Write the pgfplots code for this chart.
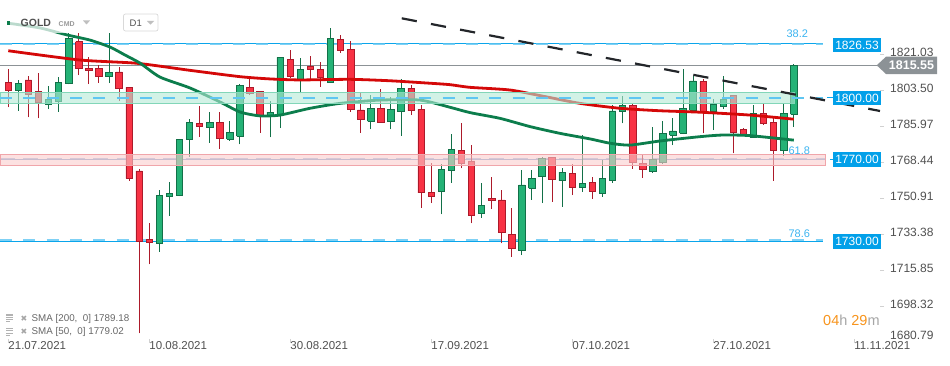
\documentclass[border=0pt]{standalone}
\usepackage{pgfplots}
\pgfplotsset{compat=1.18}
\usepackage{pgfplotstable}
\usepackage{fontspec}
\setmainfont{Liberation Sans}
\newfontfamily\dejavu{DejaVu Sans}
\definecolor{candleG}{RGB}{36,178,118}
\definecolor{candleGd}{RGB}{18,112,72}
\definecolor{candleR}{RGB}{248,50,68}
\definecolor{candleRd}{RGB}{172,26,42}
\definecolor{smared}{RGB}{212,8,8}
\definecolor{smagreen}{RGB}{12,125,76}
\definecolor{lineblue}{RGB}{10,165,235}
\definecolor{lightblue}{RGB}{95,198,242}
\definecolor{boxblue}{RGB}{2,160,233}
\definecolor{greylab}{RGB}{140,146,150}
\definecolor{bandG}{RGB}{180,234,214}
\definecolor{bandGd}{RGB}{130,214,184}
\definecolor{bandR}{RGB}{250,205,205}
\definecolor{bandRd}{RGB}{240,165,170}
\definecolor{steel}{RGB}{125,165,212}
\definecolor{fibblue}{RGB}{60,180,240}
\definecolor{labgrey}{RGB}{80,80,80}
\definecolor{timorange}{RGB}{247,148,29}
\definecolor{trendc}{RGB}{35,38,42}

\pgfplotstableread{
O H L C
1807.6 1814.0 1795.4 1803.8
1803.8 1808.7 1793.6 1807.1
1808.7 1810.6 1790.5 1801.7
1803.3 1812.2 1790.0 1797.8
1796.9 1805.8 1794.4 1799.3
1798.1 1810.0 1793.2 1807.6
1807.1 1831.4 1806.6 1829.0
1827.3 1831.4 1811.1 1814.4
1814.4 1819.7 1806.7 1813.2
1814.4 1816.0 1807.4 1810.3
1810.3 1831.4 1807.1 1812.4
1812.6 1815.1 1798.6 1804.6
1805.1 1805.3 1759.7 1760.8
1764.4 1765.4 1685.4 1730.0
1731.3 1738.9 1719.0 1729.8
1729.2 1755.1 1725.1 1752.6
1752.1 1759.0 1742.5 1753.5
1752.4 1780.0 1752.2 1779.8
1779.8 1789.7 1771.4 1788.1
1787.6 1796.0 1781.1 1786.3
1785.7 1793.0 1778.2 1788.1
1788.1 1793.0 1775.2 1780.3
1780.0 1788.7 1779.1 1783.2
1781.4 1806.5 1777.4 1806.2
1805.1 1809.2 1801.4 1802.2
1803.3 1803.5 1783.0 1791.6
1790.8 1798.5 1780.8 1793.0
1792.0 1820.0 1785.2 1819.7
1818.7 1823.3 1809.5 1810.3
1808.7 1819.2 1802.2 1813.9
1815.3 1820.4 1809.0 1813.9
1813.9 1817.4 1805.4 1809.8
1807.6 1833.8 1807.3 1829.0
1828.5 1830.6 1822.0 1822.9
1823.6 1827.7 1793.2 1794.4
1794.1 1802.2 1783.0 1789.6
1788.5 1801.4 1784.7 1794.9
1794.9 1804.2 1787.9 1788.0
1788.4 1800.5 1784.7 1794.4
1793.2 1809.0 1781.6 1804.6
1804.6 1806.2 1791.6 1793.7
1794.4 1796.5 1746.5 1753.8
1754.0 1768.1 1748.7 1751.9
1754.3 1767.7 1743.3 1765.2
1764.5 1782.4 1758.7 1775.0
1774.5 1787.6 1765.7 1768.1
1769.3 1777.0 1738.9 1742.6
1743.8 1758.7 1741.7 1747.8
1751.1 1761.6 1745.8 1749.9
1750.3 1755.1 1729.2 1734.6
1733.7 1746.2 1722.7 1726.8
1725.6 1764.9 1723.5 1757.6
1756.0 1764.9 1750.3 1760.8
1761.6 1771.4 1748.7 1770.6
1771.1 1771.2 1749.5 1760.4
1759.7 1765.7 1747.0 1763.8
1763.3 1767.8 1752.7 1756.5
1756.5 1781.9 1754.3 1758.4
1758.9 1761.3 1750.8 1754.3
1753.5 1769.7 1751.9 1760.8
1759.7 1796.5 1758.7 1793.6
1793.2 1800.9 1787.6 1796.5
1796.5 1797.0 1765.4 1768.4
1768.1 1772.2 1761.1 1765.2
1764.1 1786.0 1763.6 1770.1
1768.4 1788.9 1767.7 1782.7
1781.8 1790.0 1777.0 1783.9
1782.7 1813.9 1782.5 1794.9
1794.1 1810.6 1793.0 1808.2
1807.8 1809.2 1782.7 1793.2
1793.2 1799.3 1784.3 1797.0
1796.0 1810.6 1794.4 1799.4
1801.0 1801.2 1773.0 1783.0
1784.7 1785.3 1781.5 1781.9
1780.8 1796.5 1780.5 1792.5
1792.5 1796.9 1786.8 1787.6
1788.1 1790.2 1759.7 1774.3
1774.3 1797.3 1771.7 1792.5
1792.0 1816.3 1785.9 1815.55
}\candles

\begin{document}
\begin{tikzpicture}[x=1pt,y=1pt]
\begin{axis}[
  name=ax, at={(0,0)}, anchor=south west, scale only axis,
  width=880pt, height=339pt,
  xmin=-0.824, xmax=86.56, ymin=1682.64, ymax=1847.60,
  axis line style={draw=none},
  clip=false,
  xtick={0,14,28,42,56,70,84},
  xticklabels={21.07.2021,10.08.2021,30.08.2021,17.09.2021,07.10.2021,27.10.2021,11.11.2021},
  ytick={1698.32,1715.85,1733.38,1750.91,1768.44,1785.97,1803.50,1821.03},
  yticklabels={1698.32,1715.85,1733.38,1750.91,1768.44,1785.97,1803.50,1821.03},
  xtick pos=lower, ytick pos=right, yticklabel pos=right,
  tick align=outside, major tick length=4pt,
  tick style={draw=black!18, line width=0.6pt},
  every tick label/.append style={inner sep=0pt, text=labgrey},
  xticklabel style={anchor=north west, font=\fontsize{11.5}{12}\selectfont, yshift=1.5pt},
  yticklabel style={anchor=west, font=\fontsize{12}{13}\selectfont, xshift=6pt, yshift=2pt},
  greenc/.style={fill=candleG, draw=candleGd, line width=0.8pt},
  redc/.style={fill=candleR, draw=candleRd, line width=0.8pt},
  greenw/.style={draw=candleGd, line width=1pt},
  redw/.style={draw=candleRd, line width=1pt},
]
% horizontal levels
\addplot[draw=lineblue, line width=1pt] coordinates {(-0.824,1826.53) (80.9,1826.53)};
\addplot[draw=lightblue, line width=1.8pt, dash pattern=on 12pt off 11.3pt, opacity=0.8] coordinates {(-0.824,1826.2) (80.9,1826.2)};
\addplot[draw=lineblue, line width=1pt] coordinates {(-0.824,1730) (80.9,1730)};
\addplot[draw=lightblue, line width=1.8pt, dash pattern=on 12pt off 11.3pt, opacity=0.8] coordinates {(-0.824,1730.9) (80.9,1730.9)};
\addplot[draw=greylab, line width=0.9pt] coordinates {(-0.824,1815.55) (86.3,1815.55)};
\addplot[draw=steel, line width=1pt] coordinates {(-0.824,1770) (81.2,1770)};
\addplot[draw=steel, line width=1.8pt, dash pattern=on 15pt off 8.3pt, opacity=0.7] coordinates {(-0.824,1770.3) (81.2,1770.3)};
\addplot[draw=lineblue, line width=0.8pt] coordinates {(81.6,1770) (82.0,1770)};
\addplot[draw=lineblue, line width=0.8pt] coordinates {(81.3,1800) (82.0,1800)};
% candles
\pgfplotsinvokeforeach{0,...,78}{
  \pgfplotstablegetelem{#1}{O}\of\candles \edef\cO{\pgfplotsretval}
  \pgfplotstablegetelem{#1}{H}\of\candles \edef\cH{\pgfplotsretval}
  \pgfplotstablegetelem{#1}{L}\of\candles \edef\cL{\pgfplotsretval}
  \pgfplotstablegetelem{#1}{C}\of\candles \edef\cC{\pgfplotsretval}
  \pgfmathsetmacro\xa{#1-0.32}
  \pgfmathsetmacro\xb{#1+0.32}
  \pgfmathparse{\cC>=\cO?1:0}
  \ifdim\pgfmathresult pt>0.5pt \def\cstyle{greenc}\def\wstyle{greenw}\else\def\cstyle{redc}\def\wstyle{redw}\fi
  \edef\tmp{\noexpand\addplot[\wstyle] coordinates {(#1,\cL) (#1,\cH)};
    \noexpand\addplot[\cstyle] coordinates {(\xa,\cO) (\xb,\cO) (\xb,\cC) (\xa,\cC) (\xa,\cO)};}
  \tmp
}
% SMA 200
\addplot[draw=smared, line width=2.8pt, smooth, tension=0.4] coordinates {
(0,1822.9) (7.12,1818.4) (12.78,1816.8) (18,1813.4) (23.0,1810.3) (25.97,1809.2)
(28.97,1808.7) (33.93,1809.0) (37.9,1808.3) (41.88,1807.1) (43.86,1806.4) (45.85,1805.1)
(49.82,1803.8) (53.3,1800.6) (56.77,1797.3) (60.75,1794.9) (64.72,1793.7)
(68.69,1793.0) (73.65,1791.6) (78,1789.6)};
% SMA 50
\addplot[draw=smagreen, line width=2.8pt, smooth, tension=0.4] coordinates {
(0,1836.3) (3.15,1834.0) (5.83,1830.6) (8.11,1828.1) (10.1,1824.7) (11.6,1820.8)
(13.08,1816.9) (15.06,1810.1) (18.04,1804.8) (21.02,1798.0) (23.01,1793.1)
(25.0,1791.2) (26.98,1791.6) (29.96,1794.9) (32.94,1797.3) (36.91,1798.9)
(40.88,1798.9) (43.86,1795.4) (45.85,1792.8) (48.83,1790.0) (51.81,1786.0)
(54.79,1782.7) (57.77,1780.0) (59.76,1777.9) (61.74,1777.0) (64.72,1779.0)
(68.69,1781.1) (70.98,1781.9) (73.65,1781.6) (78,1779.4)};
% bands
\addplot[fill=bandG, fill opacity=0.6, draw=bandGd, line width=0.9pt] coordinates {
(-0.824,1797.33) (78.05,1797.33) (78.05,1802.69) (-0.824,1802.69) (-0.824,1797.33)};
\addplot[draw=lightblue, line width=1.6pt, dash pattern=on 12pt off 11.3pt] coordinates {(-0.824,1800) (80.9,1800)};
\addplot[fill=bandR, fill opacity=0.6, draw=bandRd, line width=0.9pt] coordinates {
(-0.824,1766.97) (81.1,1766.97) (81.1,1772.66) (-0.824,1772.66) (-0.824,1766.97)};
% trend line
\addplot[draw=trendc, line width=2.2pt, dash pattern=on 15.3pt off 14.4pt] coordinates {(39.07,1838.69) (86.56,1793.59)};
\coordinate (O) at (rel axis cs:0,0);
\end{axis}
\pgfresetboundingbox
\begin{scope}[shift={(O)}, yshift=-26pt]
\path[use as bounding box] (0,0) rectangle (950,365);
% right labels
\node[fill=boxblue, text=white, font=\fontsize{12}{12}\selectfont, inner sep=0pt, minimum width=48pt, minimum height=14.5pt] at (857,320) {1826.53};
\node[fill=boxblue, text=white, font=\fontsize{12}{12}\selectfont, inner sep=0pt, minimum width=48pt, minimum height=14.5pt] at (857,267) {1800.00};
\node[fill=boxblue, text=white, font=\fontsize{12}{12}\selectfont, inner sep=0pt, minimum width=48pt, minimum height=14.5pt] at (857,205.5) {1770.00};
\node[fill=boxblue, text=white, font=\fontsize{12}{12}\selectfont, inner sep=0pt, minimum width=48pt, minimum height=14.5pt] at (857,123.7) {1730.00};
\fill[greylab] (876.7,299.7) -- (886,308.3) -- (937,308.3) -- (937,291) -- (886,291) -- cycle;
\node[text=white, font=\bfseries\fontsize{12.5}{12.5}\selectfont, inner sep=0pt] at (911.5,299.7) {1815.55};
\node[anchor=west, text=labgrey, font=\fontsize{12}{13}\selectfont, inner sep=0pt] at (890,30) {1680.79};
% fib labels
\node[text=fibblue, font=\fontsize{11}{11}\selectfont, inner sep=0pt] at (797.3,331) {38.2};
\node[text=fibblue, font=\fontsize{11}{11}\selectfont, inner sep=0pt] at (799.3,214.3) {61.8};
\node[text=fibblue, font=\fontsize{11}{11}\selectfont, inner sep=0pt] at (799.3,131) {78.6};
% timer
\node[anchor=west, inner sep=0pt, font=\fontsize{14.5}{14.5}\selectfont] at (823,45) {\textcolor{timorange}{04}\textcolor{black!35}{h} \textcolor{timorange}{29}\textcolor{black!35}{m}};
% header overlay
\fill[white, opacity=0.72] (0,332) rectangle (165,365);
\fill[smagreen] (7.3,340) rectangle (9.5,343.5);
\node[anchor=west, inner sep=0pt, text=labgrey, font=\bfseries\fontsize{10.5}{10.5}\selectfont] at (20.5,341.7) {GOLD};
\node[anchor=west, inner sep=0pt, text=black!40, font=\bfseries\fontsize{7}{7}\selectfont] at (58.5,341) {CMD};
\fill[black!25] (83,344.5) -- (90,344.5) -- (86.5,340.5) -- cycle;
\draw[black!15, fill=white, rounded corners=2pt, line width=0.7pt] (123.5,334) rectangle (158,351);
\node[anchor=west, inner sep=0pt, text=labgrey, font=\fontsize{9.5}{9.5}\selectfont] at (129.5,342) {D1};
\fill[black!25] (147,344) -- (154,344) -- (150.5,340.3) -- cycle;
% SMA legend
\foreach \yy/\txt in {46.5/{SMA [200,\ \ 0] 1789.18}, 33/{SMA [50,\ \ 0] 1779.02}}{
  \fill[black!30] (6,\yy+3) rectangle (13,\yy+4.2);
  \fill[black!30] (6,\yy+0.6) rectangle (13,\yy+1.8);
  \fill[black!30] (6,\yy-1.8) rectangle (13,\yy-0.6);
  \fill[black!30] (6,\yy-3.4) rectangle (10,\yy-2.6);
  \node[inner sep=0pt, text=black!35, font=\dejavu\fontsize{8}{8}\selectfont] at (24,\yy) {✖};
  \node[anchor=west, inner sep=0pt, text=black!60, font=\fontsize{9.8}{10}\selectfont] at (31.5,\yy) {\txt};
}
\end{scope}
\end{tikzpicture}
\end{document}
